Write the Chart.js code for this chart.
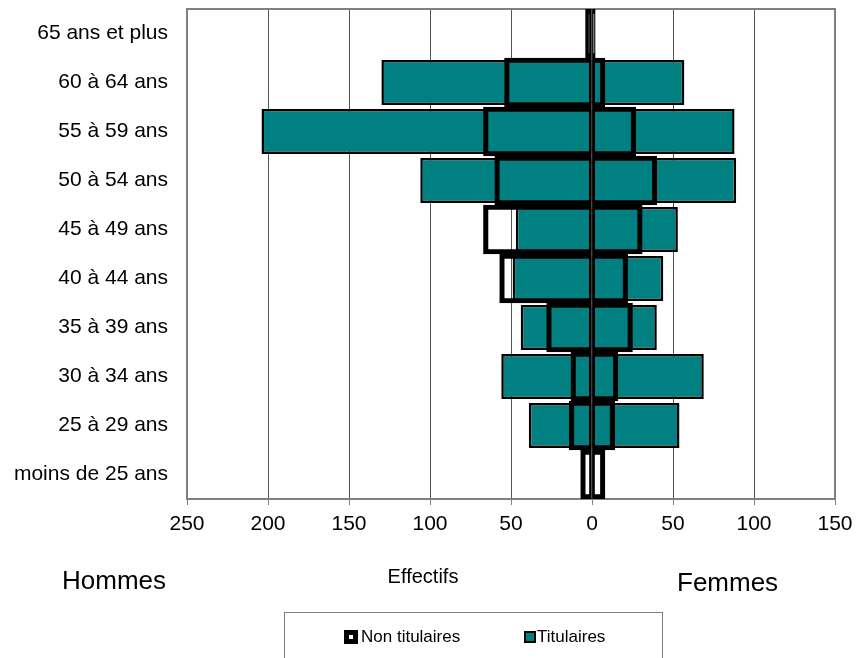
<!DOCTYPE html>
<html>
<head>
<meta charset="utf-8">
<script src="https://cdn.jsdelivr.net/npm/chart.js@4.4.1/dist/chart.umd.min.js"></script>
<style>
  html, body { margin: 0; padding: 0; background: #fff; }
  #wrap { width: 856px; height: 658px; }
</style>
</head>
<body>
<div id="wrap"><canvas id="pyramid"></canvas></div>
<script>
// tranches d'age, du haut vers le bas
const ageGroups = [
  "65 ans et plus", "60 à 64 ans", "55 à 59 ans", "50 à 54 ans", "45 à 49 ans",
  "40 à 44 ans", "35 à 39 ans", "30 à 34 ans", "25 à 29 ans", "moins de 25 ans"
];

// hommes en negatif, femmes en positif
const titulairesHommes = [0, -130, -204, -106, -47, -49, -44, -56, -39, 0];
const titulairesFemmes = [0, 57, 88, 89, 53, 44, 40, 69, 54, 1];
const nonTitulairesHommes = [-4, -54, -67, -60, -67, -57, -28, -13, -14, -7];
const nonTitulairesFemmes = [2, 8, 27, 40, 31, 22, 25, 16, 14, 8];

const xTicks = [-250, -200, -150, -100, -50, 0, 50, 100, 150];

const FONT = "'Liberation Sans', Arial, sans-serif";
const TEAL = "#008080";

// cadre gris, titres et legende dessines a la main
const extras = {
  id: "extras",
  beforeDatasetsDraw(chart) {
    const { ctx, chartArea: a } = chart;
    ctx.save();
    ctx.strokeStyle = "#808080";
    ctx.lineWidth = 2;
    ctx.strokeRect(a.left, a.top, a.right - a.left, a.bottom - a.top);
    ctx.restore();
  },
  afterDraw(chart) {
    const ctx = chart.ctx;
    ctx.save();
    ctx.fillStyle = "#000";
    ctx.textBaseline = "middle";
    ctx.font = "20px " + FONT;
    ctx.textAlign = "center";
    ctx.fillText("Effectifs", 423, 577);
    ctx.font = "26px " + FONT;
    ctx.textAlign = "left";
    ctx.fillText("Hommes", 62, 582);
    ctx.fillText("Femmes", 677, 584);

    // legende
    ctx.strokeStyle = "#808080";
    ctx.lineWidth = 1;
    ctx.strokeRect(284.5, 612.5, 378, 60);
    ctx.font = "17px " + FONT;
    ctx.fillStyle = "#000";
    ctx.fillRect(344, 630, 14, 14);
    ctx.fillStyle = "#fff";
    ctx.fillRect(349, 635, 4, 4);
    ctx.fillStyle = "#000";
    ctx.fillText("Non titulaires", 361, 637);
    ctx.fillRect(524, 631, 12, 12);
    ctx.fillStyle = TEAL;
    ctx.fillRect(526, 633, 8, 8);
    ctx.fillStyle = "#000";
    ctx.fillText("Titulaires", 537, 637);
    ctx.restore();
  }
};

new Chart("pyramid", {
  type: "bar",
  data: {
    labels: ageGroups,
    datasets: [
      {
        label: "Non titulaires",
        data: nonTitulairesHommes,
        stack: "s",
        backgroundColor: "rgba(0,0,0,0)",
        borderColor: "#000",
        borderWidth: { top: 4.5, bottom: 4.5, left: 4.5, right: 2 },
        borderSkipped: false,
        barPercentage: 1,
        categoryPercentage: 1
      },
      {
        label: "Non titulaires",
        data: nonTitulairesFemmes,
        stack: "s",
        backgroundColor: "rgba(0,0,0,0)",
        borderColor: "#000",
        borderWidth: { top: 4.5, bottom: 4.5, left: 2, right: 4.5 },
        borderSkipped: false,
        barPercentage: 1,
        categoryPercentage: 1
      },
      {
        label: "Titulaires",
        data: titulairesHommes,
        stack: "s",
        backgroundColor: TEAL,
        borderColor: "#000",
        borderWidth: 2.5,
        borderSkipped: false,
        barPercentage: 0.92,
        categoryPercentage: 1
      },
      {
        label: "Titulaires",
        data: titulairesFemmes,
        stack: "s",
        backgroundColor: TEAL,
        borderColor: "#000",
        borderWidth: 2.5,
        borderSkipped: false,
        barPercentage: 0.92,
        categoryPercentage: 1
      }
    ]
  },
  options: {
    indexAxis: "y",
    responsive: true,
    maintainAspectRatio: false,
    animation: false,
    layout: { padding: { top: 9, right: 21, left: 0, bottom: 0 } },
    plugins: {
      legend: { display: false },
      tooltip: { enabled: false }
    },
    scales: {
      x: {
        type: "linear",
        stacked: false,
        min: -250,
        max: 150,
        afterBuildTicks: s => { s.ticks = xTicks.map(v => ({ value: v })); },
        afterFit: s => { s.height = 159; s.paddingLeft = 0; s.paddingRight = 0; },
        ticks: {
          callback: v => Math.abs(v),
          color: "#000",
          font: { family: FONT, size: 21 },
          padding: 7,
          maxRotation: 0
        },
        grid: { color: "#555", tickLength: 6, tickColor: "#808080" },
        border: { display: false }
      },
      y: {
        stacked: true,
        afterFit: s => { s.width = 187; s.paddingTop = 0; s.paddingBottom = 0; },
        ticks: {
          color: "#000",
          font: { family: FONT, size: 21 },
          padding: 19
        },
        grid: { display: false, drawTicks: false },
        border: { display: false }
      }
    }
  },
  plugins: [extras]
});
</script>
</body>
</html>
